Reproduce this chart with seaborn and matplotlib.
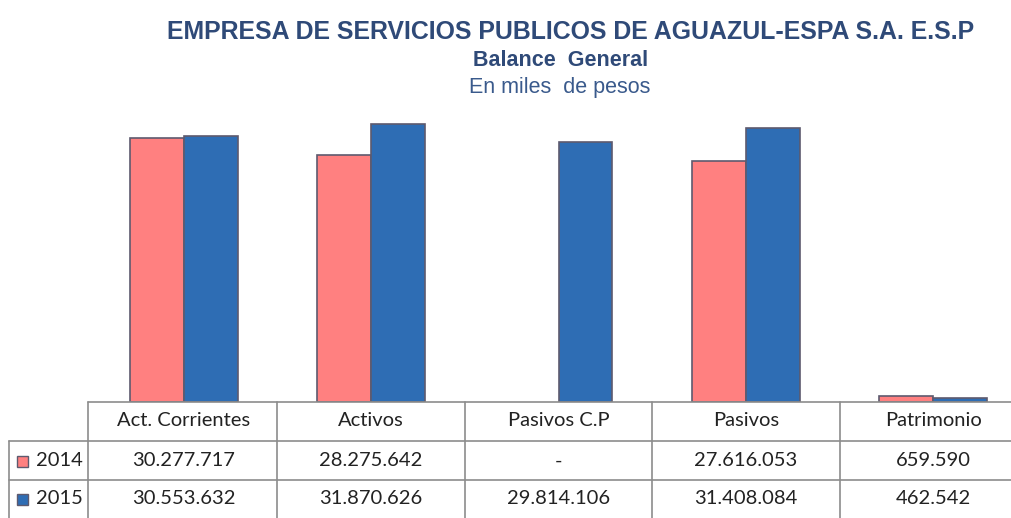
import numpy as np
import pandas as pd
import seaborn as sns
from matplotlib import pyplot as plt
from matplotlib.lines import Line2D
from matplotlib.patches import Rectangle

#datos del balance (miles de pesos)
categorias = ['Act. Corrientes', 'Activos', 'Pasivos C.P', 'Pasivos', 'Patrimonio']
anios = ['2014', '2015']
valores_2014 = [30277717, 28275642, np.nan, 27616053, 659590]
valores_2015 = [30553632, 31870626, 29814106, 31408084, 462542]
textos_2014 = ['30.277.717', '28.275.642', '-', '27.616.053', '659.590']
textos_2015 = ['30.553.632', '31.870.626', '29.814.106', '31.408.084', '462.542']

colores = ['#FF8080', '#2E6DB4']
borde = '#5E5A6E'
linea = '#8C8C8C'
azul_titulo = '#2F4A78'

sns.set_style('white')
plt.rcParams['font.family'] = ['Lato', 'DejaVu Sans']

W, H = 1011, 518
fig = plt.figure(figsize=(W/100, H/100), dpi=100)

def fx(x):
    return x/W

def fy(y):
    return 1-y/H

#area de barras, las columnas de la tabla siguen el mismo ancho
x0, x1 = 90, 1027
base, tope = 402, 110
ax = fig.add_axes([fx(x0), fy(base), fx(x1)-fx(x0), fy(tope)-fy(base)])

df = pd.DataFrame({'categoria': categorias*2,
                   'anio': [anios[0]]*5+[anios[1]]*5,
                   'valor': valores_2014+valores_2015})
df = df.dropna()

sns.barplot(data=df, x='categoria', y='valor', hue='anio', order=categorias,
            hue_order=anios, palette=colores, saturation=1, width=0.575, gap=0,
            edgecolor=borde, linewidth=1.2, legend=False, ax=ax)
ax.set_xlim(-0.5, 4.5)
ax.set_ylim(0, 33480000)
ax.axis('off')

#titulos
fuente_titulo = ['Liberation Sans', 'DejaVu Sans']
fig.text(fx(571), fy(32), 'EMPRESA DE SERVICIOS PUBLICOS DE AGUAZUL-ESPA S.A. E.S.P',
         ha='center', va='center', fontsize=17.9, fontweight='bold', color=azul_titulo,
         family=fuente_titulo)
fig.text(fx(561), fy(60), 'Balance  General', ha='center', va='center', fontsize=15.5,
         fontweight='bold', color=azul_titulo, family=fuente_titulo)
fig.text(fx(560), fy(88), 'En miles  de pesos', ha='center', va='center', fontsize=15.5,
         color='#3A5A8C', family=fuente_titulo)

#tabla de datos
ancho_col = (x1-x0)/5
def hline(y, xa, xb):
    fig.add_artist(Line2D([fx(xa), fx(xb)], [fy(y), fy(y)], color=linea, lw=1.2))

def vline(x, ya, yb):
    fig.add_artist(Line2D([fx(x), fx(x)], [fy(ya), fy(yb)], color=linea, lw=1.2))

hline(402, 88, W)
hline(441, 9, W)
hline(480, 9, W)
vline(9, 441, H)
vline(88, 402, H)
for i in range(1, 5):
    vline(x0+i*ancho_col, 402, H)

for i, cat in enumerate(categorias):
    cx = x0+(i+0.5)*ancho_col
    fig.text(fx(cx), fy(421), cat, ha='center', va='center', fontsize=14.5, color='#222222')
    fig.text(fx(cx), fy(461), textos_2014[i], ha='center', va='center', fontsize=14.5, color='#222222')
    fig.text(fx(cx), fy(499), textos_2015[i], ha='center', va='center', fontsize=14.5, color='#222222')

for j, (anio, yc) in enumerate(zip(anios, [461, 499])):
    fig.add_artist(Rectangle((fx(17), fy(yc+6)), fx(11), 11/H, facecolor=colores[j],
                             edgecolor=borde, lw=1, transform=fig.transFigure))
    fig.text(fx(36), fy(yc), anio, ha='left', va='center', fontsize=14.5, color='#222222')

fig.savefig('out.png', dpi=100)
